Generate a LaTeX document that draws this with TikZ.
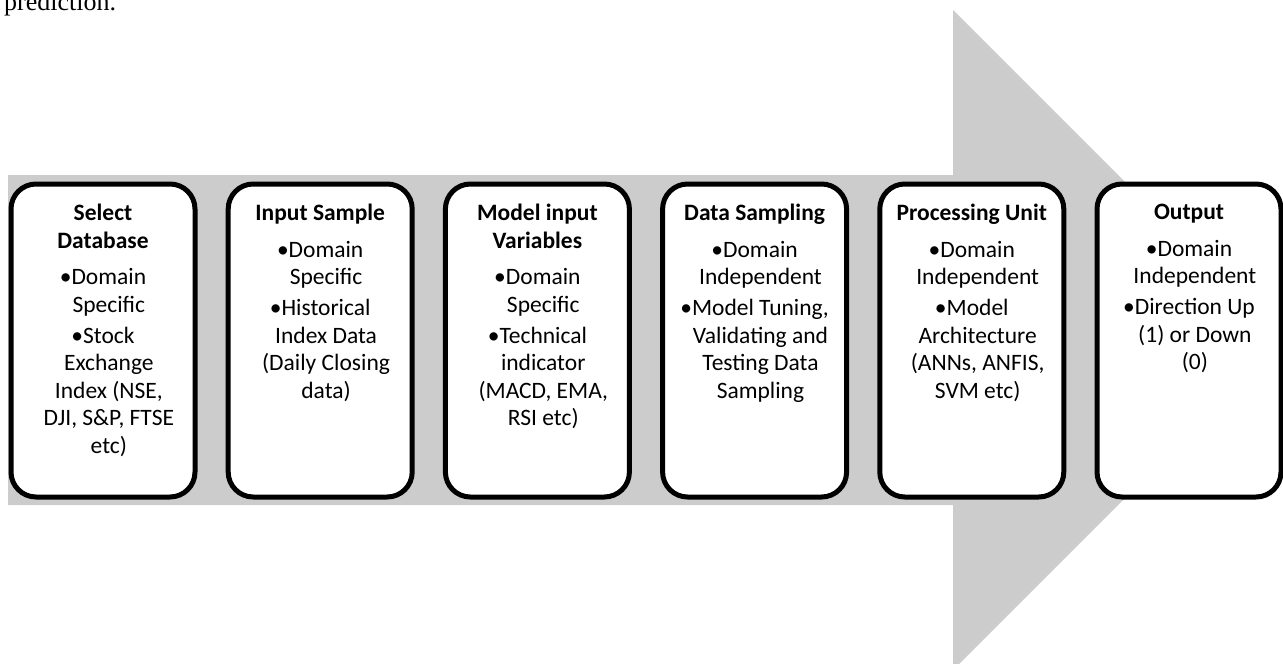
\documentclass[tikz,border=0pt]{standalone}
\usepackage{fontspec}
\setmainfont{Carlito}
\newfontfamily\timesfont{Liberation Serif}
\newcommand\contind{\hphantom{•}}
\definecolor{arrowgray}{HTML}{CCCCCC}
\begin{document}
\begin{tikzpicture}[x=1pt,y=-1pt,
  stagebox/.style={draw=black, fill=white, line width=5pt, rounded corners=25pt,
    minimum width=184pt, minimum height=313pt, inner sep=0pt},
  stagetext/.style={anchor=north, inner sep=0pt, align=center,
    font=\fontsize{23.5}{27.5}\selectfont}]
\useasboundingbox (0,0) rectangle (1283,664);
\clip (0,0) rectangle (1283,664);

% top text fragment
\node[anchor=base west, inner sep=0pt, font=\timesfont\fontsize{26}{30}\selectfont] (pred) at (4,10) {prediction.};

% big gray arrow
\fill[arrowgray] (8,175) -- (953,175) -- (953,10) -- (1283,340) -- (953,670) -- (953,505) -- (8,505) -- cycle;

% boxes
\node[stagebox] (b1) at (103.0,340.5) {};
\node[stagebox] (b2) at (320.2,340.5) {};
\node[stagebox] (b3) at (537.4,340.5) {};
\node[stagebox] (b4) at (754.6,340.5) {};
\node[stagebox] (b5) at (971.8,340.5) {};
\node[stagebox] (b6) at (1189.0,340.5) {};

\node[stagetext] (t1) at (103.0,204) {\textbf{Select}\\\textbf{Database}\\[9pt]
  •Domain\\\contind Specific\\[3.5pt]
  •Stock\\\contind Exchange\\\contind Index (NSE,\\\contind DJI, S\&P, FTSE\\\contind etc)};
\node[stagetext] (t2) at (320.2,204) {\textbf{Input Sample}\\[9pt]
  •Domain\\\contind Specific\\[3.5pt]
  •Historical\\\contind Index Data\\\contind (Daily Closing\\\contind data)};
\node[stagetext] (t3) at (537.4,204) {\textbf{Model input}\\\textbf{Variables}\\[9pt]
  •Domain\\\contind Specific\\[3.5pt]
  •Technical\\\contind indicator\\\contind (MACD, EMA,\\\contind RSI etc)};
\node[stagetext] (t4) at (754.6,204) {\textbf{Data Sampling}\\[9pt]
  •Domain\\\contind Independent\\[3.5pt]
  •Model Tuning,\\\contind Validating and\\\contind Testing Data\\\contind Sampling};
\node[stagetext] (t5) at (971.8,204) {\textbf{Processing Unit}\\[9pt]
  •Domain\\\contind Independent\\[3.5pt]
  •Model\\\contind Architecture\\\contind (ANNs, ANFIS,\\\contind SVM etc)};
\node[stagetext] (t6) at (1189.0,204) {\textbf{Output}\\[9pt]
  •Domain\\\contind Independent\\[3.5pt]
  •Direction Up\\\contind (1) or Down\\\contind (0)};
\end{tikzpicture}
\end{document}
